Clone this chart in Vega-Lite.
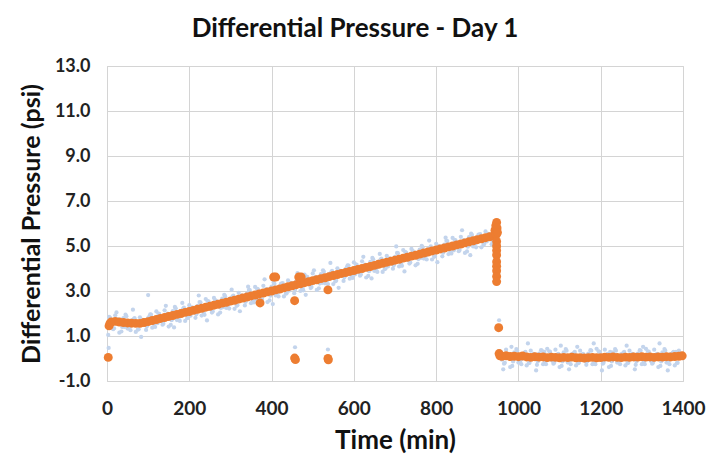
{
  "$schema": "https://vega.github.io/schema/vega-lite/v6.json",
  "autosize": "none",
  "width": 576,
  "height": 315,
  "padding": {"left": 107, "top": 66, "right": 24, "bottom": 81},
  "background": "white",
  "title": {
    "text": "Differential Pressure - Day 1",
    "font": "Lato",
    "fontSize": 26,
    "fontWeight": "bold",
    "color": "#111111",
    "anchor": "middle",
    "dx": -40,
    "offset": 15
  },
  "config": {
    "view": {"stroke": "#d9d9d9", "strokeWidth": 1},
    "axis": {
      "grid": true,
      "gridColor": "#d4d4d4",
      "gridWidth": 1,
      "domainColor": "#d4d4d4",
      "ticks": false,
      "labelFont": "Lato",
      "labelFontWeight": "bold",
      "labelColor": "#222222",
      "labelFlush": false,
      "labelOverlap": false,
      "titleFont": "Lato",
      "titleFontWeight": "bold",
      "titleColor": "#111111"
    }
  },
  "datasets": {
    "noise": [
      {"t":5,"p":1.85},{"t":15,"p":1.30},{"t":25,"p":1.70},{"t":35,"p":1.20},{"t":45,"p":1.95},{"t":55,"p":1.43},{"t":65,"p":1.75},{"t":75,"p":1.28},{"t":85,"p":1.62},{"t":95,"p":1.27},{"t":105,"p":1.96},{"t":115,"p":1.49},{"t":125,"p":2.00},{"t":135,"p":1.50},{"t":145,"p":1.95},{"t":155,"p":1.49},{"t":165,"p":2.29},{"t":175,"p":1.83},{"t":185,"p":2.21},{"t":195,"p":1.79},{"t":205,"p":2.17},{"t":215,"p":1.81},{"t":225,"p":2.51},{"t":235,"p":2.03},{"t":245,"p":2.55},{"t":255,"p":2.04},{"t":265,"p":2.49},{"t":275,"p":2.04},{"t":285,"p":2.83},{"t":295,"p":2.38},{"t":305,"p":2.75},{"t":315,"p":2.34},{"t":325,"p":2.71},{"t":335,"p":2.36},{"t":345,"p":3.05},{"t":355,"p":2.58},{"t":365,"p":3.09},{"t":375,"p":2.59},{"t":385,"p":3.03},{"t":395,"p":2.58},{"t":405,"p":3.38},{"t":415,"p":2.92},{"t":425,"p":3.30},{"t":435,"p":2.88},{"t":445,"p":3.26},{"t":455,"p":2.90},{"t":465,"p":3.60},{"t":475,"p":3.12},{"t":485,"p":3.64},{"t":495,"p":3.13},{"t":505,"p":3.58},{"t":515,"p":3.12},{"t":525,"p":3.92},{"t":535,"p":3.47},{"t":545,"p":3.84},{"t":555,"p":3.43},{"t":565,"p":3.80},{"t":575,"p":3.45},{"t":585,"p":4.14},{"t":595,"p":3.67},{"t":605,"p":4.18},{"t":615,"p":3.68},{"t":625,"p":4.12},{"t":635,"p":3.67},{"t":645,"p":4.47},{"t":655,"p":4.01},{"t":665,"p":4.39},{"t":675,"p":3.97},{"t":685,"p":4.35},{"t":695,"p":3.99},{"t":705,"p":4.69},{"t":715,"p":4.21},{"t":725,"p":4.73},{"t":735,"p":4.22},{"t":745,"p":4.67},{"t":755,"p":4.21},{"t":765,"p":5.01},{"t":775,"p":4.56},{"t":785,"p":4.93},{"t":795,"p":4.52},{"t":805,"p":4.89},{"t":815,"p":4.54},{"t":825,"p":5.23},{"t":835,"p":4.76},{"t":845,"p":5.27},{"t":855,"p":4.77},{"t":865,"p":5.21},{"t":875,"p":4.76},{"t":885,"p":5.55},{"t":895,"p":5.10},{"t":905,"p":5.48},{"t":915,"p":5.06},{"t":925,"p":5.44},{"t":935,"p":5.08},{"t":945,"p":5.73},
      {"t":10,"p":1.48},{"t":20,"p":1.92},{"t":30,"p":1.15},{"t":40,"p":1.80},{"t":50,"p":1.33},{"t":60,"p":1.69},{"t":70,"p":1.18},{"t":80,"p":1.83},{"t":90,"p":1.55},{"t":100,"p":1.79},{"t":110,"p":1.37},{"t":120,"p":2.09},{"t":130,"p":1.66},{"t":140,"p":2.14},{"t":150,"p":1.42},{"t":160,"p":2.11},{"t":170,"p":1.71},{"t":180,"p":2.12},{"t":190,"p":1.67},{"t":200,"p":2.37},{"t":210,"p":2.09},{"t":220,"p":2.34},{"t":230,"p":1.91},{"t":240,"p":2.64},{"t":250,"p":2.20},{"t":260,"p":2.69},{"t":270,"p":1.96},{"t":280,"p":2.66},{"t":290,"p":2.25},{"t":300,"p":2.67},{"t":310,"p":2.21},{"t":320,"p":2.92},{"t":330,"p":2.64},{"t":340,"p":2.88},{"t":350,"p":2.46},{"t":360,"p":3.18},{"t":370,"p":2.75},{"t":380,"p":3.23},{"t":390,"p":2.51},{"t":400,"p":3.20},{"t":410,"p":2.80},{"t":420,"p":3.21},{"t":430,"p":2.76},{"t":440,"p":3.47},{"t":450,"p":3.18},{"t":460,"p":3.43},{"t":470,"p":3.00},{"t":480,"p":3.73},{"t":490,"p":3.29},{"t":500,"p":3.78},{"t":510,"p":3.05},{"t":520,"p":3.75},{"t":530,"p":3.34},{"t":540,"p":3.76},{"t":550,"p":3.31},{"t":560,"p":4.01},{"t":570,"p":3.73},{"t":580,"p":3.97},{"t":590,"p":3.55},{"t":600,"p":4.27},{"t":610,"p":3.84},{"t":620,"p":4.32},{"t":630,"p":3.60},{"t":640,"p":4.29},{"t":650,"p":3.89},{"t":660,"p":4.31},{"t":670,"p":3.85},{"t":680,"p":4.56},{"t":690,"p":4.27},{"t":700,"p":4.52},{"t":710,"p":4.09},{"t":720,"p":4.82},{"t":730,"p":4.38},{"t":740,"p":4.87},{"t":750,"p":4.14},{"t":760,"p":4.84},{"t":770,"p":4.44},{"t":780,"p":4.85},{"t":790,"p":4.40},{"t":800,"p":5.10},{"t":810,"p":4.82},{"t":820,"p":5.06},{"t":830,"p":4.64},{"t":840,"p":5.36},{"t":850,"p":4.93},{"t":860,"p":5.41},{"t":870,"p":4.69},{"t":880,"p":5.39},{"t":890,"p":4.98},{"t":900,"p":5.40},{"t":910,"p":4.94},{"t":920,"p":5.65},{"t":930,"p":5.36},{"t":940,"p":5.61},
      {"t":3,"p":1.05},{"t":23,"p":2.05},{"t":43,"p":1.40},{"t":63,"p":2.17},{"t":83,"p":0.96},{"t":103,"p":1.87},{"t":123,"p":1.57},{"t":143,"p":2.34},{"t":163,"p":1.38},{"t":183,"p":2.47},{"t":203,"p":1.90},{"t":223,"p":2.80},{"t":243,"p":1.69},{"t":263,"p":2.60},{"t":283,"p":2.29},{"t":303,"p":3.06},{"t":323,"p":2.10},{"t":343,"p":3.19},{"t":363,"p":2.63},{"t":383,"p":3.52},{"t":403,"p":2.42},{"t":423,"p":3.33},{"t":443,"p":3.02},{"t":463,"p":3.79},{"t":483,"p":2.83},{"t":503,"p":3.92},{"t":523,"p":3.36},{"t":543,"p":4.25},{"t":563,"p":3.14},{"t":583,"p":4.05},{"t":603,"p":3.74},{"t":623,"p":4.52},{"t":643,"p":3.56},{"t":663,"p":4.65},{"t":683,"p":4.09},{"t":703,"p":4.98},{"t":723,"p":3.87},{"t":743,"p":4.78},{"t":763,"p":4.47},{"t":783,"p":5.24},{"t":803,"p":4.28},{"t":823,"p":5.37},{"t":843,"p":4.81},{"t":863,"p":5.70},{"t":883,"p":4.59},{"t":903,"p":5.51},{"t":923,"p":5.20},{"t":943,"p":5.97},
      {"t":7,"p":1.82},{"t":17,"p":1.34},{"t":27,"p":1.74},{"t":37,"p":1.40},{"t":47,"p":1.88},{"t":57,"p":1.26},{"t":67,"p":1.79},{"t":77,"p":1.30},{"t":87,"p":1.72},{"t":97,"p":1.43},{"t":107,"p":1.95},{"t":117,"p":1.40},{"t":127,"p":1.98},{"t":137,"p":1.55},{"t":147,"p":2.00},{"t":157,"p":1.70},{"t":167,"p":2.23},{"t":177,"p":1.67},{"t":187,"p":2.26},{"t":197,"p":1.82},{"t":207,"p":2.27},{"t":217,"p":1.97},{"t":227,"p":2.50},{"t":237,"p":1.94},{"t":247,"p":2.53},{"t":257,"p":2.09},{"t":267,"p":2.54},{"t":277,"p":2.25},{"t":287,"p":2.77},{"t":297,"p":2.22},{"t":307,"p":2.80},{"t":317,"p":2.37},{"t":327,"p":2.81},{"t":337,"p":2.52},{"t":347,"p":3.04},{"t":357,"p":2.49},{"t":367,"p":3.07},{"t":377,"p":2.64},{"t":387,"p":3.08},{"t":397,"p":2.79},{"t":407,"p":3.32},{"t":417,"p":2.76},{"t":427,"p":3.35},{"t":437,"p":2.91},{"t":447,"p":3.36},{"t":457,"p":3.06},{"t":467,"p":3.59},{"t":477,"p":3.03},{"t":487,"p":3.62},{"t":497,"p":3.18},{"t":507,"p":3.63},{"t":517,"p":3.33},{"t":527,"p":3.86},{"t":537,"p":3.31},{"t":547,"p":3.89},{"t":557,"p":3.46},{"t":567,"p":3.90},{"t":577,"p":3.61},{"t":587,"p":4.13},{"t":597,"p":3.58},{"t":607,"p":4.16},{"t":617,"p":3.73},{"t":627,"p":4.17},{"t":637,"p":3.88},{"t":647,"p":4.41},{"t":657,"p":3.85},{"t":667,"p":4.44},{"t":677,"p":4.00},{"t":687,"p":4.45},{"t":697,"p":4.15},{"t":707,"p":4.68},{"t":717,"p":4.12},{"t":727,"p":4.71},{"t":737,"p":4.27},{"t":747,"p":4.72},{"t":757,"p":4.42},{"t":767,"p":4.95},{"t":777,"p":4.40},{"t":787,"p":4.98},{"t":797,"p":4.55},{"t":807,"p":4.99},{"t":817,"p":4.70},{"t":827,"p":5.22},{"t":837,"p":4.67},{"t":847,"p":5.25},{"t":857,"p":4.82},{"t":867,"p":5.26},{"t":877,"p":4.97},{"t":887,"p":5.49},{"t":897,"p":4.94},{"t":907,"p":5.53},{"t":917,"p":5.09},{"t":927,"p":5.54},{"t":937,"p":5.24},
      {"t":100,"p":2.82},{"t":4,"p":0.47},{"t":457,"p":0.50},{"t":537,"p":0.40},{"t":953,"p":1.70},
      {"t":955,"p":0.32},{"t":965,"p":-0.23},{"t":975,"p":0.17},{"t":985,"p":-0.33},{"t":995,"p":0.42},{"t":1005,"p":-0.08},{"t":1015,"p":0.25},{"t":1025,"p":-0.21},{"t":1035,"p":0.12},{"t":1045,"p":-0.28},{"t":1055,"p":0.37},{"t":1065,"p":-0.15},{"t":1075,"p":0.32},{"t":1085,"p":-0.23},{"t":1095,"p":0.17},{"t":1105,"p":-0.33},{"t":1115,"p":0.42},{"t":1125,"p":-0.08},{"t":1135,"p":0.25},{"t":1145,"p":-0.21},{"t":1155,"p":0.12},{"t":1165,"p":-0.28},{"t":1175,"p":0.37},{"t":1185,"p":-0.15},{"t":1195,"p":0.32},{"t":1205,"p":-0.23},{"t":1215,"p":0.17},{"t":1225,"p":-0.33},{"t":1235,"p":0.42},{"t":1245,"p":-0.08},{"t":1255,"p":0.25},{"t":1265,"p":-0.21},{"t":1275,"p":0.12},{"t":1285,"p":-0.28},{"t":1295,"p":0.37},{"t":1305,"p":-0.15},{"t":1315,"p":0.32},{"t":1325,"p":-0.23},{"t":1335,"p":0.17},{"t":1345,"p":-0.33},{"t":1355,"p":0.42},{"t":1365,"p":-0.08},{"t":1375,"p":0.25},{"t":1385,"p":-0.21},{"t":1395,"p":0.12},
      {"t":960,"p":-0.05},{"t":970,"p":0.39},{"t":980,"p":-0.38},{"t":990,"p":0.27},{"t":1000,"p":-0.18},{"t":1010,"p":0.19},{"t":1020,"p":-0.31},{"t":1030,"p":0.35},{"t":1040,"p":0.02},{"t":1050,"p":0.22},{"t":1060,"p":-0.25},{"t":1070,"p":0.43},{"t":1080,"p":-0.05},{"t":1090,"p":0.39},{"t":1100,"p":-0.38},{"t":1110,"p":0.27},{"t":1120,"p":-0.18},{"t":1130,"p":0.19},{"t":1140,"p":-0.31},{"t":1150,"p":0.35},{"t":1160,"p":0.02},{"t":1170,"p":0.22},{"t":1180,"p":-0.25},{"t":1190,"p":0.43},{"t":1200,"p":-0.05},{"t":1210,"p":0.39},{"t":1220,"p":-0.38},{"t":1230,"p":0.27},{"t":1240,"p":-0.18},{"t":1250,"p":0.19},{"t":1260,"p":-0.31},{"t":1270,"p":0.35},{"t":1280,"p":0.02},{"t":1290,"p":0.22},{"t":1300,"p":-0.25},{"t":1310,"p":0.43},{"t":1320,"p":-0.05},{"t":1330,"p":0.39},{"t":1340,"p":-0.38},{"t":1350,"p":0.27},{"t":1360,"p":-0.18},{"t":1370,"p":0.19},{"t":1380,"p":-0.31},{"t":1390,"p":0.35},{"t":1400,"p":0.02},
      {"t":963,"p":-0.48},{"t":983,"p":0.52},{"t":1003,"p":-0.13},{"t":1023,"p":0.67},{"t":1043,"p":-0.53},{"t":1063,"p":0.29},{"t":1083,"p":-0.11},{"t":1103,"p":0.57},{"t":1123,"p":-0.48},{"t":1143,"p":0.52},{"t":1163,"p":-0.13},{"t":1183,"p":0.67},{"t":1203,"p":-0.53},{"t":1223,"p":0.29},{"t":1243,"p":-0.11},{"t":1263,"p":0.57},{"t":1283,"p":-0.48},{"t":1303,"p":0.52},{"t":1323,"p":-0.13},{"t":1343,"p":0.67},{"t":1363,"p":-0.53},{"t":1383,"p":0.29},
      {"t":957,"p":0.29},{"t":967,"p":-0.19},{"t":977,"p":0.21},{"t":987,"p":-0.13},{"t":997,"p":0.35},{"t":1007,"p":-0.25},{"t":1017,"p":0.29},{"t":1027,"p":-0.19},{"t":1037,"p":0.21},{"t":1047,"p":-0.13},{"t":1057,"p":0.35},{"t":1067,"p":-0.25},{"t":1077,"p":0.29},{"t":1087,"p":-0.19},{"t":1097,"p":0.21},{"t":1107,"p":-0.13},{"t":1117,"p":0.35},{"t":1127,"p":-0.25},{"t":1137,"p":0.29},{"t":1147,"p":-0.19},{"t":1157,"p":0.21},{"t":1167,"p":-0.13},{"t":1177,"p":0.35},{"t":1187,"p":-0.25},{"t":1197,"p":0.29},{"t":1207,"p":-0.19},{"t":1217,"p":0.21},{"t":1227,"p":-0.13},{"t":1237,"p":0.35},{"t":1247,"p":-0.25},{"t":1257,"p":0.29},{"t":1267,"p":-0.19},{"t":1277,"p":0.21},{"t":1287,"p":-0.13},{"t":1297,"p":0.35},{"t":1307,"p":-0.25},{"t":1317,"p":0.29},{"t":1327,"p":-0.19},{"t":1337,"p":0.21},{"t":1347,"p":-0.13},{"t":1357,"p":0.35},{"t":1367,"p":-0.25},{"t":1377,"p":0.29},{"t":1387,"p":-0.19},{"t":1397,"p":0.21}
    ],
    "main": [
      {"t":3,"p":0.05},{"t":5,"p":1.45},{"t":7,"p":1.55},{"t":10,"p":1.62},{"t":20,"p":1.65},{"t":30,"p":1.62},{"t":40,"p":1.60},{"t":50,"p":1.58},{"t":60,"p":1.57},{"t":70,"p":1.56},{"t":80,"p":1.56},{"t":90,"p":1.60},{"t":100,"p":1.64},{"t":110,"p":1.69},{"t":120,"p":1.73},{"t":130,"p":1.78},{"t":140,"p":1.82},{"t":150,"p":1.87},{"t":160,"p":1.91},{"t":170,"p":1.96},{"t":180,"p":2.00},{"t":190,"p":2.05},{"t":200,"p":2.09},{"t":210,"p":2.14},{"t":220,"p":2.19},{"t":230,"p":2.23},{"t":240,"p":2.28},{"t":250,"p":2.32},{"t":260,"p":2.37},{"t":270,"p":2.41},{"t":280,"p":2.46},{"t":290,"p":2.50},{"t":300,"p":2.55},{"t":310,"p":2.59},{"t":320,"p":2.64},{"t":330,"p":2.69},{"t":340,"p":2.73},{"t":350,"p":2.78},{"t":360,"p":2.82},{"t":370,"p":2.87},{"t":380,"p":2.91},{"t":390,"p":2.96},{"t":400,"p":3.00},{"t":410,"p":3.05},{"t":420,"p":3.09},{"t":430,"p":3.14},{"t":440,"p":3.19},{"t":450,"p":3.23},{"t":460,"p":3.28},{"t":470,"p":3.32},{"t":480,"p":3.37},{"t":490,"p":3.41},{"t":500,"p":3.46},{"t":510,"p":3.50},{"t":520,"p":3.55},{"t":530,"p":3.59},{"t":540,"p":3.64},{"t":550,"p":3.69},{"t":560,"p":3.73},{"t":570,"p":3.78},{"t":580,"p":3.82},{"t":590,"p":3.87},{"t":600,"p":3.91},{"t":610,"p":3.96},{"t":620,"p":4.00},{"t":630,"p":4.05},{"t":640,"p":4.09},{"t":650,"p":4.14},{"t":660,"p":4.19},{"t":670,"p":4.23},{"t":680,"p":4.28},{"t":690,"p":4.32},{"t":700,"p":4.37},{"t":710,"p":4.41},{"t":720,"p":4.46},{"t":730,"p":4.50},{"t":740,"p":4.55},{"t":750,"p":4.59},{"t":760,"p":4.64},{"t":770,"p":4.69},{"t":780,"p":4.73},{"t":790,"p":4.78},{"t":800,"p":4.82},{"t":810,"p":4.87},{"t":820,"p":4.91},{"t":830,"p":4.96},{"t":840,"p":5.00},{"t":850,"p":5.05},{"t":860,"p":5.09},{"t":870,"p":5.14},{"t":880,"p":5.19},{"t":890,"p":5.23},{"t":900,"p":5.28},{"t":910,"p":5.32},{"t":920,"p":5.37},{"t":930,"p":5.41},{"t":940,"p":5.46},
      {"t":372,"p":2.47},{"t":405,"p":3.62},{"t":410,"p":3.62},{"t":456,"p":2.57},{"t":466,"p":3.62},{"t":472,"p":3.62},{"t":537,"p":3.05},{"t":456,"p":0.02},{"t":458,"p":-0.05},{"t":537,"p":0.00},{"t":538,"p":-0.06},
      {"t":943,"p":5.70},{"t":945,"p":5.90},{"t":946,"p":5.50},{"t":947,"p":6.05},{"t":948,"p":5.80},{"t":949,"p":5.60},
      {"t":947,"p":5.20},{"t":947,"p":5.00},{"t":947,"p":4.80},{"t":947,"p":4.60},{"t":947,"p":4.30},{"t":947,"p":4.10},{"t":947,"p":3.90},{"t":947,"p":3.65},{"t":947,"p":3.42},
      {"t":952,"p":1.37},
      {"t":953,"p":0.22},{"t":955,"p":0.12},{"t":960,"p":0.10},{"t":970,"p":0.12},{"t":980,"p":0.09},{"t":990,"p":0.10},{"t":1000,"p":0.08},{"t":1010,"p":0.11},{"t":1020,"p":0.07},{"t":1030,"p":0.05},{"t":1040,"p":0.08},{"t":1050,"p":0.06},{"t":1060,"p":0.07},{"t":1070,"p":0.04},{"t":1080,"p":0.06},{"t":1090,"p":0.05},{"t":1100,"p":0.03},{"t":1110,"p":0.05},{"t":1120,"p":0.04},{"t":1130,"p":0.06},{"t":1140,"p":0.03},{"t":1150,"p":0.04},{"t":1160,"p":0.02},{"t":1170,"p":0.04},{"t":1180,"p":0.05},{"t":1190,"p":0.03},{"t":1200,"p":0.04},{"t":1210,"p":0.06},{"t":1220,"p":0.05},{"t":1230,"p":0.07},{"t":1240,"p":0.05},{"t":1250,"p":0.04},{"t":1260,"p":0.06},{"t":1270,"p":0.05},{"t":1280,"p":0.07},{"t":1290,"p":0.06},{"t":1300,"p":0.08},{"t":1310,"p":0.06},{"t":1320,"p":0.07},{"t":1330,"p":0.05},{"t":1340,"p":0.07},{"t":1350,"p":0.06},{"t":1360,"p":0.08},{"t":1370,"p":0.07},{"t":1380,"p":0.09},{"t":1390,"p":0.10},{"t":1398,"p":0.12}
    ]
  },
  "encoding": {
    "x": {
      "field": "t",
      "type": "quantitative",
      "scale": {"domain": [0, 1400], "nice": false},
      "axis": {
        "title": "Time (min)",
        "values": [0, 200, 400, 600, 800, 1000, 1200, 1400],
        "format": "d",
        "labelFontSize": 19,
        "labelPadding": 18,
        "titleFontSize": 26,
        "titlePadding": 9
      }
    },
    "y": {
      "field": "p",
      "type": "quantitative",
      "scale": {"domain": [-1, 13], "nice": false, "zero": false},
      "axis": {
        "title": "Differential Pressure (psi)",
        "values": [-1, 1, 3, 5, 7, 9, 11, 13],
        "format": ".1f",
        "labelExpr": "replace(datum.label, '−', '-')",
        "labelFontSize": 18,
        "labelPadding": 17,
        "titleFontSize": 25,
        "titlePadding": 10
      }
    }
  },
  "layer": [
    {
      "data": {"name": "noise"},
      "mark": {"type": "point", "filled": true, "size": 18, "color": "#c3d4ec", "opacity": 1}
    },
    {
      "data": {"name": "main"},
      "mark": {"type": "point", "filled": true, "size": 80, "color": "#ed7d31", "opacity": 1}
    }
  ]
}
